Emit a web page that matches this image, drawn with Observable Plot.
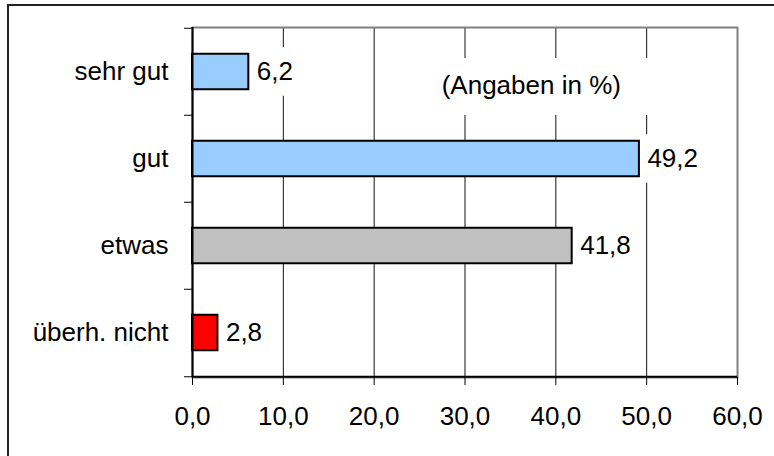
<!DOCTYPE html>
<html>
<head>
<meta charset="utf-8">
<script src="https://cdn.jsdelivr.net/npm/d3@7"></script>
<script src="https://cdn.jsdelivr.net/npm/@observablehq/plot@0.6"></script>
<style>
  html, body { margin: 0; padding: 0; background: #fff; }
  #wrap { position: relative; width: 774px; height: 456px; overflow: hidden; }
  #outer { position: absolute; left: 7px; top: 4px; width: 900px; height: 600px;
           border-left: 2px solid #222; border-top: 2px solid #222; pointer-events: none; }
</style>
</head>
<body>
<div id="wrap"><div id="outer"></div></div>
<script>
const categories = ["sehr gut", "gut", "etwas", "überh. nicht"];
const values = [6.2, 49.2, 41.8, 2.8];
const colors = ["#99CCFF", "#99CCFF", "#C0C0C0", "#FF0000"];
const xTicks = [0, 10, 20, 30, 40, 50, 60];
const note = "(Angaben in %)";

const data = categories.map((c, i) => ({category: c, value: values[i], color: colors[i]}));
const fmt = d => d.toFixed(1).replace(".", ",");

const W = 774, H = 456;
const mL = 192, mR = 37, mT = 27, mB = 79;
const fs = 26;
const pxPerUnit = (W - mL - mR) / (xTicks[xTicks.length - 1] - xTicks[0]);
const halfBand = (H - mT - mB) / categories.length / 2;
const textW = s => [...s].reduce((a, ch) => a + (ch === "," ? 0.278 : 0.556), 0) * fs;

const chart = Plot.plot({
  width: W, height: H,
  marginLeft: mL, marginRight: mR, marginTop: mT, marginBottom: mB,
  style: {fontFamily: "'Liberation Sans', Arial, sans-serif", fontSize: fs + "px", background: "white", color: "black"},
  x: {domain: [xTicks[0], xTicks[xTicks.length - 1]]},
  y: {domain: categories, padding: 0},
  marks: [
    Plot.ruleX(xTicks.slice(1, -1), {stroke: "#111", strokeWidth: 1}),
    // white box behind the note
    Plot.barX([note], {x1: () => 26, x2: () => 51.6, y: () => categories[0], fill: "white", insetTop: 30, insetBottom: 0}),
    // white boxes behind value labels
    Plot.barX(data, {
      x1: d => d.value + 3 / pxPerUnit,
      x2: d => d.value + (8 + textW(fmt(d.value)) + 5) / pxPerUnit,
      y: "category", fill: "white", insetTop: 19.25, insetBottom: 19.25
    }),
    Plot.frame({stroke: "#808080", strokeWidth: 2}),
    Plot.barX(data, {
      x: "value", y: "category", fill: "color", stroke: "#000", strokeWidth: 2,
      insetTop: 25.75, insetBottom: 25.75
    }),
    Plot.text(data, {x: "value", y: "category", text: d => fmt(d.value), dx: 8, textAnchor: "start", fill: "#000"}),
    Plot.text([note], {x: () => 37.3, y: () => categories[0], text: d => d, dy: 14, fill: "#000"}),
    // axis lines
    Plot.ruleX([0], {stroke: "#000", strokeWidth: 2}),
    Plot.ruleY([categories[categories.length - 1]], {dy: halfBand, stroke: "#000", strokeWidth: 2}),
    // left boundary ticks
    Plot.ruleY(categories, {y: d => d, dy: -halfBand, x1: () => -8 / pxPerUnit, x2: () => 0, stroke: "#000", strokeWidth: 1}),
    Plot.ruleY([categories[categories.length - 1]], {dy: halfBand, x1: () => -8 / pxPerUnit, x2: () => 0, stroke: "#000", strokeWidth: 1}),
    Plot.axisX({ticks: xTicks, tickSize: 8, tickPadding: 21, tickFormat: fmt, label: null, stroke: "#000"}),
    Plot.axisY({tickSize: 0, tickPadding: 24, label: null})
  ]
});
document.getElementById("wrap").insertBefore(chart, document.getElementById("outer"));
</script>
</body>
</html>
